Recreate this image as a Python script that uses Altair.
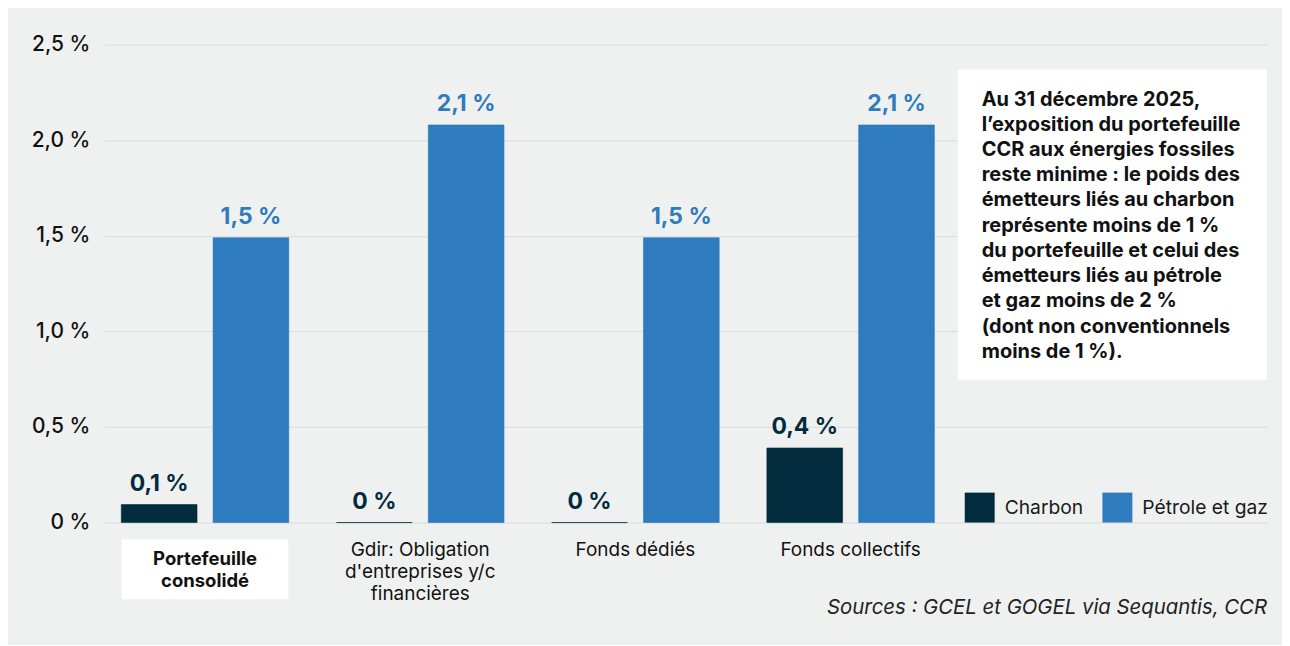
import altair as alt
import pandas as pd

# ---- data ----
categories = [
    "Portefeuille consolidé",
    "Gdir: Obligation d'entreprises y/c financières",
    "Fonds dédiés",
    "Fonds collectifs",
]
category_labels = [
    "Portefeuille\nconsolidé",
    "Gdir: Obligation\nd'entreprises y/c\nfinancières",
    "Fonds dédiés",
    "Fonds collectifs",
]
series = ["Charbon", "Pétrole et gaz"]
charbon = [0.094, 0.0, 0.0, 0.39]
petrole = [1.49, 2.08, 1.49, 2.08]
charbon_labels = ["0,1 %", "0 %", "0 %", "0,4 %"]
petrole_labels = ["1,5 %", "2,1 %", "1,5 %", "2,1 %"]
y_ticks = [0, 0.5, 1.0, 1.5, 2.0, 2.5]

note_lines = [
    "Au 31 décembre 2025,",
    "l’exposition du portefeuille",
    "CCR aux énergies fossiles",
    "reste minime : le poids des",
    "émetteurs liés au charbon",
    "représente moins de 1 %",
    "du portefeuille et celui des",
    "émetteurs liés au pétrole",
    "et gaz moins de 2 %",
    "(dont non conventionnels",
    "moins de 1 %).",
]
source_text = "Sources : GCEL et GOGEL via Sequantis, CCR"

# ---- styling ----
FONT = "Inter"
BG = "#eff1f0"
COLORS = ["#022c3e", "#2e7bbd"]
W, H = 1165, 479

rows = []
for i, c in enumerate(categories):
    rows.append({"cat": c, "series": series[0], "value": charbon[i], "label": charbon_labels[i]})
    rows.append({"cat": c, "series": series[1], "value": petrole[i], "label": petrole_labels[i]})
df = pd.DataFrame(rows)

cat_df = pd.DataFrame({"cat": categories, "txt": category_labels})

x_enc = alt.X(
    "cat:N",
    sort=categories,
    scale=alt.Scale(domain=categories, paddingInner=0.068, paddingOuter=0.7345, align=0),
    axis=None,
)
xo_enc = alt.XOffset(
    "series:N",
    sort=series,
    scale=alt.Scale(domain=series, paddingInner=0.175, paddingOuter=0.18),
)
y_scale = alt.Scale(domain=[0, 2.5], nice=False)
color_scale = alt.Scale(domain=series, range=COLORS)

label_expr = "datum.value == 0 ? '0 %' : replace(format(datum.value, '.1f'), '.', ',') + ' %'"

bars = alt.Chart(df).mark_bar(strokeWidth=0.6).encode(
    x=x_enc,
    xOffset=xo_enc,
    y=alt.Y(
        "value:Q",
        scale=y_scale,
        axis=alt.Axis(
            values=y_ticks,
            labelExpr=label_expr,
            domain=False,
            ticks=False,
            labelPadding=15,
            labelFontSize=21,
            labelFont=FONT,
            labelFontWeight=500,
            labelColor="#111111",
            gridColor="#d9dcdc",
            gridWidth=1,
            title=None,
        ),
    ),
    color=alt.Color(
        "series:N",
        scale=color_scale,
        legend=alt.Legend(
            orient="none",
            legendX=862,
            legendY=449,
            direction="horizontal",
            title=None,
            symbolType="square",
            symbolSize=900,
            symbolStrokeWidth=0,
            symbolOpacity=1,
            labelFontSize=19.3,
            labelFont=FONT,
            labelColor="#1a1a1a",
            labelOffset=10,
            columnPadding=19,
            padding=0,
        ),
    ),
    stroke=alt.Stroke("series:N", scale=color_scale, legend=None),
)

values_text = alt.Chart(df).mark_text(
    font=FONT, fontSize=23, fontWeight="bold", baseline="alphabetic", dy=-14
).encode(
    x=x_enc,
    xOffset=xo_enc,
    y=alt.Y("value:Q", scale=y_scale),
    text="label:N",
    color=alt.Color("series:N", scale=alt.Scale(domain=series, range=["#0f3549", "#2e7bbd"]), legend=None),
)

# white highlight behind first category label
highlight = alt.Chart(cat_df).transform_filter(
    alt.datum.cat == categories[0]
).mark_bar(size=167, color="white").encode(
    x=x_enc,
    y=alt.value(H + 17),
    y2=alt.value(H + 77),
)

cat_bold = alt.Chart(cat_df).transform_filter(
    alt.datum.cat == categories[0]
).mark_text(
    font=FONT, fontSize=18.5, fontWeight="bold", color="#111111",
    baseline="alphabetic", lineBreak="\n", lineHeight=22,
).encode(x=x_enc, y=alt.value(H + 42.5), text="txt:N")

cat_reg = alt.Chart(cat_df).transform_filter(
    alt.datum.cat != categories[0]
).mark_text(
    font=FONT, fontSize=19, color="#111111",
    baseline="alphabetic", lineBreak="\n", lineHeight=22,
).encode(x=x_enc, y=alt.value(H + 33.5), text="txt:N")

one = alt.Data(values=[{"k": 1}])

note_box = alt.Chart(one).mark_rect(color="white").encode(
    x=alt.value(855), x2=alt.value(1165), y=alt.value(25), y2=alt.value(336)
)
note_text = alt.Chart(one).mark_text(
    text="\n".join(note_lines),
    lineBreak="\n",
    font=FONT, fontSize=20, fontWeight="bold", color="#111111",
    align="left", baseline="alphabetic", lineHeight=25.3,
).encode(x=alt.value(879), y=alt.value(61))

source = alt.Chart(one).mark_text(
    text=source_text, font=FONT, fontSize=20.4, fontStyle="italic", color="#222222",
    align="right", baseline="alphabetic",
).encode(x=alt.value(1165), y=alt.value(571))

chart = alt.layer(
    bars, values_text, highlight, cat_bold, cat_reg, note_box, note_text, source
).properties(
    width=W,
    height=H,
    padding={"left": 97, "top": 36, "right": 15, "bottom": 122},
    autosize=alt.AutoSizeParams(type="none"),
    background=BG,
).configure_view(strokeWidth=0)

chart.save("out.html", embed_options={"renderer": "svg", "actions": False})
